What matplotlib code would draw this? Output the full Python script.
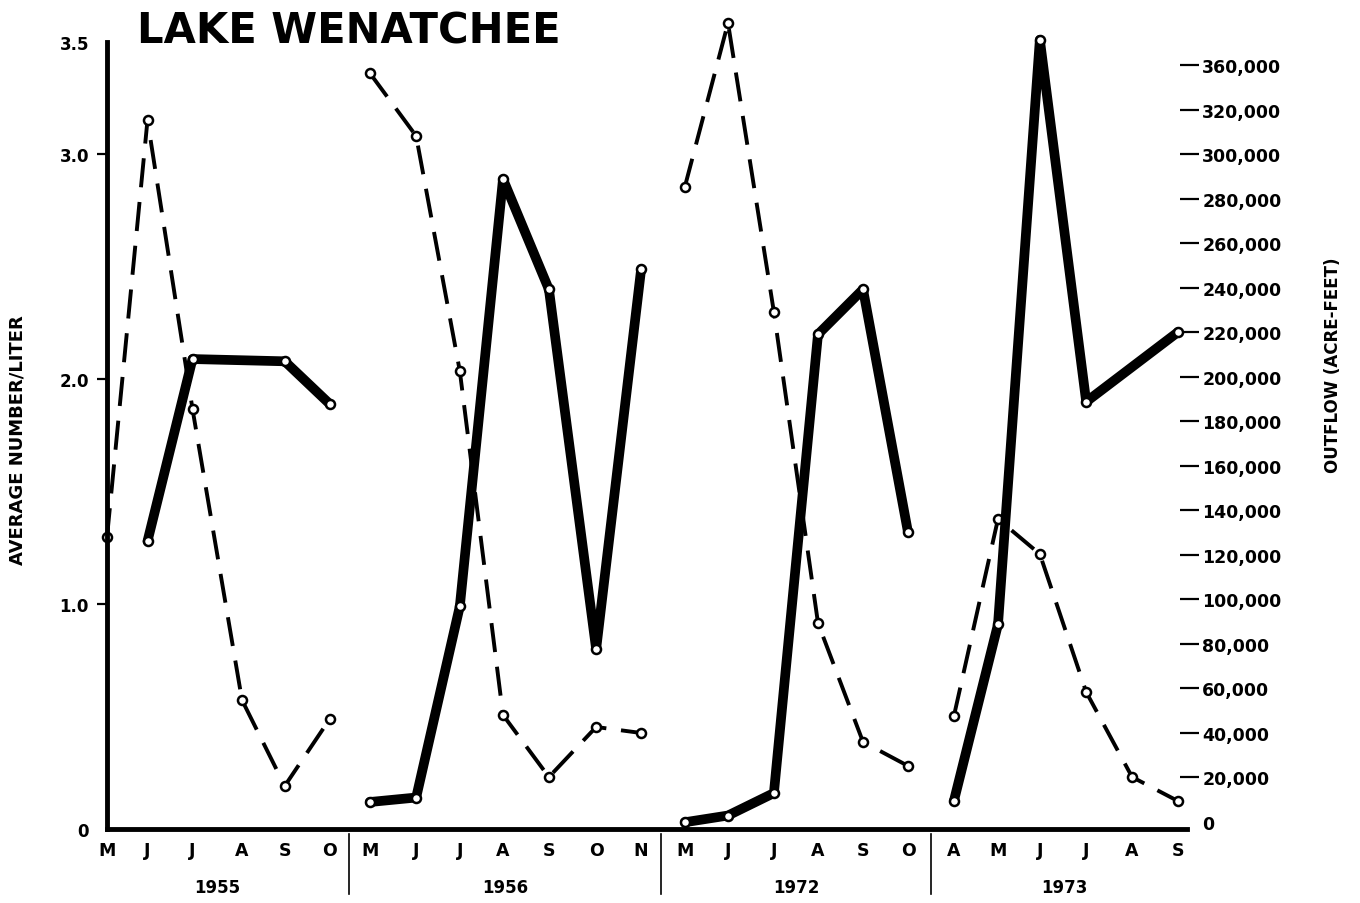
import numpy as np
import matplotlib.pyplot as plt
from matplotlib import transforms

# ---------------- dados ----------------
years = ['1955', '1956', '1972', '1973']
months = [['M', 'J', 'J', 'A', 'S', 'O'],
          ['M', 'J', 'J', 'A', 'S', 'O', 'N'],
          ['M', 'J', 'J', 'A', 'S', 'O'],
          ['A', 'M', 'J', 'J', 'A', 'S']]

# average number / liter (linha cheia, eixo esquerdo)
num_1955 = [np.nan, 1.28, 2.09, np.nan, 2.08, 1.89]
num_1956 = [0.12, 0.14, 0.99, 2.89, 2.40, 0.80, 2.49]
num_1972 = [0.03, 0.06, 0.16, 2.20, 2.40, 1.32]
num_1973 = [0.125, 0.91, 3.51, 1.90, np.nan, 2.21]

# outflow, acre-feet (linha tracejada, eixo direito)
flow_1955 = [128000, 315500, 185600, 54800, 16200, 46300]
flow_1956 = [336600, 308300, 202700, 48100, 20200, 42700, 40000]
flow_1972 = [285400, 359100, 229200, 89400, 36000, 25200]
flow_1973 = [47600, 136200, 120400, 58400, 20200, 9400]

left_ticks = [0, 1.0, 2.0, 3.0, 3.5]
left_labels = ['0', '1.0', '2.0', '3.0', '3.5']
right_ticks = list(range(0, 340001, 20000))
right_labels = ['0', '20,000', '40,000', '60,000', '80,000', '100,000', '120,000',
                '140,000', '160,000', '180,000', '200,000', '220,000', '240,000',
                '260,000', '280,000', '300,000', '320,000', '360,000']

# ---------------- layout ----------------
month_x = [[0, 0.9, 1.9, 3.0, 3.95, 4.95],
           [5.84, 6.87, 7.84, 8.8, 9.82, 10.87, 11.87],
           [12.84, 13.8, 14.82, 15.8, 16.8, 17.8],
           [18.82, 19.8, 20.73, 21.76, 22.78, 23.8]]
dividers = [5.38, 12.31, 18.31]

plt.rcParams['font.family'] = 'DejaVu Sans'
plt.rcParams['font.weight'] = 'bold'

fig = plt.figure(figsize=(13.6, 9.04), dpi=100)
ax = fig.add_axes([107/1360, 1-830/904, 1080/1360, 787/904])
ax2 = ax.twinx()

ax.set_xlim(0, 24.0)
ax.set_ylim(0, 3.5)
ax2.set_ylim(-3150, 350560)

nums = [num_1955, num_1956, num_1972, num_1973]
flows = [flow_1955, flow_1956, flow_1972, flow_1973]

# linha tracejada (outflow)
for xs, f in zip(month_x, flows):
    ax2.plot(xs, f, color='black', lw=2.8, dashes=(7.5, 3.8), zorder=2,
             clip_on=False)
    ax2.plot(xs, f, 'o', color='black', mfc='white', ms=6.5, mew=1.8,
             zorder=5, clip_on=False)

# linha cheia por cima
for xs, n in zip(month_x, nums):
    xs = np.array(xs)
    n = np.array(n, dtype=float)
    ok = ~np.isnan(n)
    ax.plot(xs[ok], n[ok], color='black', lw=7, solid_joinstyle='round',
            solid_capstyle='round', clip_on=False)
    ax.plot(xs[ok], n[ok], 'o', color='black', mfc='white', ms=6.5, mew=1.8,
            clip_on=False)

ax.set_zorder(ax2.get_zorder() + 1)
ax.patch.set_visible(False)

# eixos
for s in ['top', 'right']:
    ax.spines[s].set_visible(False)
for s in ['top', 'right', 'left', 'bottom']:
    ax2.spines[s].set_visible(False)
ax.spines['left'].set_linewidth(3.5)
ax.spines['bottom'].set_linewidth(3.5)

ax.set_yticks(left_ticks, left_labels, fontsize=12, fontweight='bold')
ax.tick_params(axis='y', direction='out', length=7, width=1.6, pad=6)
for t, v in zip(ax.yaxis.get_major_ticks(), left_ticks):
    if v in (0, 3.5):
        t.tick1line.set_visible(False)

all_x = [x for xs in month_x for x in xs]
all_m = [m for ms in months for m in ms]
ax.set_xticks(all_x, all_m, fontsize=12.5, fontweight='bold')
ax.tick_params(axis='x', length=0, pad=9)

ax2.spines['right'].set_position(('axes', 1073/1080))
ax2.set_yticks(right_ticks, right_labels, fontsize=12.5, fontweight='bold')
ax2.tick_params(axis='y', direction='out', length=14, width=1.6, pad=2)
ax2.yaxis.get_major_ticks()[0].tick2line.set_visible(False)

# divisórias e anos
trans = transforms.blended_transform_factory(ax.transData, ax.transAxes)
for d in dividers:
    ax.plot([d, d], [-0.006, -0.083], color='black', lw=1.2, transform=trans,
            clip_on=False)
for xs, y in zip(month_x, years):
    ax.text(np.mean(xs), -0.074, y, transform=trans, ha='center', va='center',
            fontsize=12, fontweight='bold')

fig.text(18/1360, 1-440/904, 'AVERAGE NUMBER/LITER', rotation=90, ha='center',
         va='center', fontsize=13, fontweight='bold')
fig.text(1333/1360, 1-365/904, 'OUTFLOW (ACRE-FEET)', rotation=90, ha='center',
         va='center', fontsize=12, fontweight='bold')
fig.text(137/1360, 1-31/904, 'LAKE WENATCHEE', ha='left', va='center',
         fontsize=30, fontweight='heavy')

fig.savefig('out.png', dpi=100)
